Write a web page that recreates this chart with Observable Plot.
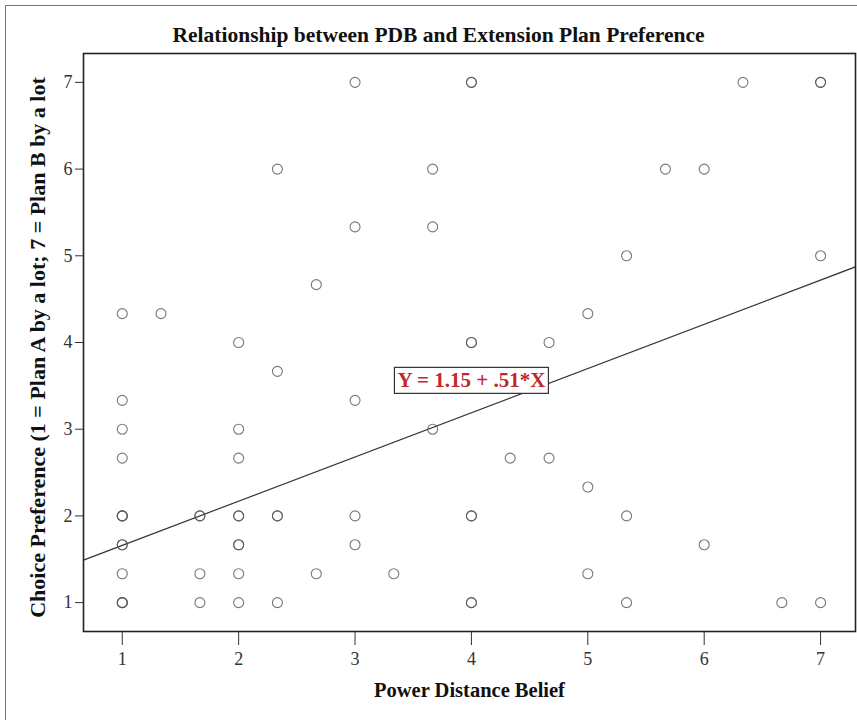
<!DOCTYPE html>
<html>
<head>
<meta charset="utf-8">
<script src="https://cdn.jsdelivr.net/npm/d3@7"></script>
<script src="https://cdn.jsdelivr.net/npm/@observablehq/plot@0.6"></script>
<style>
  html, body { margin: 0; padding: 0; background: #fff; }
  #wrap { position: relative; width: 857px; height: 720px; overflow: hidden; }
  #border { position: absolute; left: 5px; top: 5px; width: 860px; height: 720px;
            border-left: 1px solid #777; border-top: 1px solid #777; pointer-events: none; }
  #wrap svg { position: absolute; left: 0; top: 0; }
</style>
</head>
<body>
<div id="wrap"><div id="border"></div></div>
<script>
// ---- data ----
const title = "Relationship between PDB and Extension Plan Preference";
const xTitle = "Power Distance Belief";
const yTitle = "Choice Preference (1 = Plan A by a lot; 7 = Plan B by a lot";
const xTicks = [1, 2, 3, 4, 5, 6, 7];
const yTicks = [1, 2, 3, 4, 5, 6, 7];
// Power Distance Belief (x) and Choice Preference (y); repeated pairs are overlapping respondents
const pdb = [
  1, 1, 1, 1, 1, 1, 1, 1, 1, 1, 1, 1, 1,
  1.333,
  1.667, 1.667, 1.667, 1.667,
  2, 2, 2, 2, 2, 2, 2, 2, 2,
  2.333, 2.333, 2.333, 2.333, 2.333,
  2.667, 2.667,
  3, 3, 3, 3, 3,
  3.333,
  3.667, 3.667, 3.667,
  4, 4, 4, 4, 4, 4, 4, 4,
  4.333,
  4.667, 4.667,
  5, 5, 5,
  5.333, 5.333, 5.333,
  5.667,
  6, 6,
  6.333,
  6.667,
  7, 7, 7, 7
];
const choice = [
  4.333, 3.333, 3, 2.667, 2, 2, 2, 1.667, 1.667, 1.333, 1, 1, 1,
  4.333,
  2, 2, 1.333, 1,
  4, 3, 2.667, 2, 2, 1.667, 1.667, 1.333, 1,
  6, 3.667, 2, 2, 1,
  4.667, 1.333,
  7, 5.333, 3.333, 2, 1.667,
  1.333,
  6, 5.333, 3,
  7, 7, 4, 4, 2, 2, 1, 1,
  2.667,
  4, 2.667,
  4.333, 2.333, 1.333,
  5, 2, 1,
  6,
  6, 1.667,
  7,
  1,
  7, 7, 5, 1
];
const intercept = 1.15;
const slope = 0.51;
const equation = "Y = 1.15 + .51*X";
const labelAt = {x: 4.0, y: 3.56};

const points = pdb.map((x, i) => ({x, y: choice[i]}));
const xDomain = [0.667, 7.30];
const yDomain = [0.667, 7.333];
const fitLine = xDomain.map(x => ({x, y: intercept + slope * x}));

const serif = "'Liberation Serif', 'Times New Roman', serif";

const chart = Plot.plot({
  width: 857,
  height: 720,
  marginLeft: 83,
  marginRight: 2,
  marginTop: 53,
  marginBottom: 89,
  style: {fontFamily: serif, fontSize: "18px", background: "transparent", color: "#333"},
  x: {domain: xDomain},
  y: {domain: yDomain},
  marks: [
    Plot.axisX({ticks: xTicks, tickFormat: d => String(d), tickSize: 14, tickPadding: 7, fontSize: 18,
      label: null, stroke: "#333", fill: "#333"}),
    Plot.axisY({ticks: yTicks, tickFormat: d => String(d), tickSize: 8, tickPadding: 3, fontSize: 18,
      label: null, stroke: "#333", fill: "#333"}),
    Plot.line(fitLine, {x: "x", y: "y", stroke: "#333", strokeWidth: 1.2, clip: true}),
    Plot.dot(points, {x: "x", y: "y", r: 5, stroke: "#555", strokeWidth: 1.1, strokeOpacity: 0.8, fill: "none"}),
    Plot.frame({stroke: "#222", strokeWidth: 1.6}),
    Plot.text([equation], {x: () => labelAt.x, y: () => labelAt.y, text: d => d, fill: "#c1272d",
      fontWeight: "bold", fontSize: 21, fontFamily: serif}),
    Plot.text([title], {frameAnchor: "top", dx: -31, dy: -18, lineAnchor: "middle", textAnchor: "middle",
      text: d => d, fontSize: 21.5, fontWeight: "bold", fill: "#111", fontFamily: serif}),
    Plot.text([xTitle], {frameAnchor: "bottom", dy: 59, lineAnchor: "middle", textAnchor: "middle",
      text: d => d, fontSize: 20.5, fontWeight: "bold", fill: "#111", fontFamily: serif}),
    Plot.text([yTitle], {frameAnchor: "left", dx: -46, dy: 5, rotate: -90, lineAnchor: "middle", textAnchor: "middle",
      text: d => d, fontSize: 22, fontWeight: "bold", fill: "#111", fontFamily: serif})
  ]
});
document.getElementById("wrap").appendChild(chart);

// white box with a dark border behind the equation label
const svg = chart.tagName.toLowerCase() === "svg" ? chart : chart.querySelector("svg");
for (const t of svg.querySelectorAll("text")) {
  if (t.textContent === equation) {
    const b = t.getBBox();
    const rect = document.createElementNS("http://www.w3.org/2000/svg", "rect");
    const padX = 3, padY = 1;
    rect.setAttribute("x", b.x - padX);
    rect.setAttribute("y", b.y - padY);
    rect.setAttribute("width", b.width + 2 * padX);
    rect.setAttribute("height", b.height + 2 * padY);
    rect.setAttribute("fill", "#fff");
    rect.setAttribute("stroke", "#333");
    rect.setAttribute("stroke-width", "1.2");
    const tr = t.getAttribute("transform");
    if (tr) rect.setAttribute("transform", tr);
    t.parentNode.insertBefore(rect, t);
  }
}
</script>
</body>
</html>
